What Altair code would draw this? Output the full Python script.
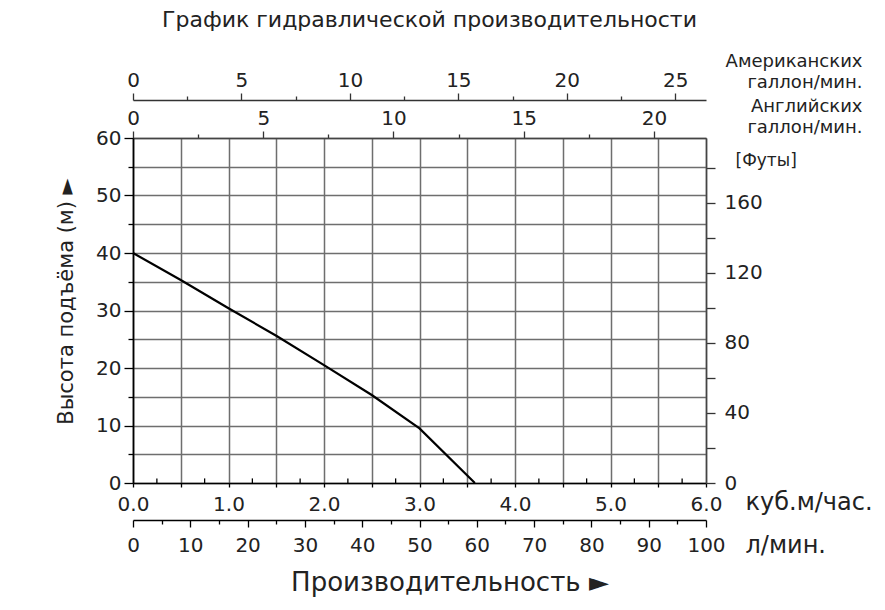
import altair as alt
import pandas as pd

# ---- data ----
flow_m3h = [0.0, 0.5, 1.0, 1.5, 2.0, 2.5, 3.0, 3.58]
head_m = [40.0, 35.3, 30.4, 25.6, 20.5, 15.3, 9.5, 0.0]

m3h_ticks = [0.0, 0.5, 1.0, 1.5, 2.0, 2.5, 3.0, 3.5, 4.0, 4.5, 5.0, 5.5, 6.0]
m3h_minor = [0.25, 0.75, 1.25, 1.75, 2.25, 2.75, 3.25, 3.75, 4.25, 4.75, 5.25, 5.75]
head_ticks = [0, 5, 10, 15, 20, 25, 30, 35, 40, 45, 50, 55, 60]
lmin_ticks = [0, 5, 10, 15, 20, 25, 30, 35, 40, 45, 50, 55, 60, 65, 70, 75, 80, 85, 90, 95, 100]
usgal_ticks = [0, 2.5, 5, 7.5, 10, 12.5, 15, 17.5, 20, 22.5, 25]
ukgal_ticks = [0, 2.5, 5, 7.5, 10, 12.5, 15, 17.5, 20]
feet_ticks = [0, 20, 40, 60, 80, 100, 120, 140, 160, 180]

m3h_domain = [0, 6.0]
head_domain = [0, 60]
lmin_domain = [0, 100]
usgal_domain = [0, 26.417]
ukgal_domain = [0, 21.997]
feet_domain = [0, 196.85]

title_text = "График гидравлической производительности"
x_title = "Производительность ►"
y_title = "Высота подъёма (м) ►"

FONT = "DejaVu Sans"
TXT = "#222222"
GRID = "#6e6e6e"
LBL = 20


def cond_size(test, big, small):
    return {"condition": {"test": test, "value": big}, "value": small}


curve = pd.DataFrame({"q": flow_m3h, "h": head_m})

line = alt.Chart(curve).mark_line(color="black", strokeWidth=2.2).encode(
    x=alt.X("q:Q", scale=alt.Scale(domain=m3h_domain, nice=False, zero=False),
            axis=alt.Axis(values=m3h_ticks,
                          labelExpr="datum.value % 1 === 0 ? format(datum.value, '.1f') : ''",
                          grid=True, gridColor=GRID, gridWidth=1.5,
                          tickSize=4, tickColor="black", tickWidth=1.3,
                          domainColor="black", domainWidth=1.7,
                          labelFont=FONT, labelFontSize=LBL, labelColor=TXT, labelPadding=7,
                          labelFlush=False, labelOverlap=False,
                          title="куб.м/час.", titleX=612, titleY=19, titleAlign="left",
                          titleBaseline="middle", titleFont=FONT, titleFontSize=24,
                          titleFontWeight="normal", titleColor=TXT)),
    y=alt.Y("h:Q", scale=alt.Scale(domain=head_domain, nice=False),
            axis=alt.Axis(values=head_ticks,
                          labelExpr="datum.value % 10 === 0 ? datum.label : ''",
                          grid=True, gridColor=GRID, gridWidth=1.5,
                          tickSize=cond_size("datum.value % 10 === 0", 9, 5),
                          tickColor="black", tickWidth=1.3,
                          domainColor="black", domainWidth=1.7,
                          labelFont=FONT, labelFontSize=LBL, labelColor=TXT, labelPadding=3,
                          labelFlush=False, labelOverlap=False,
                          title=y_title, titleX=-67, titleY=163, titleAngle=-90,
                          titleAlign="center", titleBaseline="middle", titleFont=FONT,
                          titleFontSize=21, titleFontWeight="normal", titleColor=TXT)),
)

minor = alt.Chart(pd.DataFrame({"q": m3h_minor, "y0": [0] * len(m3h_minor),
                                "y1": [0.8] * len(m3h_minor)})).mark_rule(
    color="black", strokeWidth=1.3).encode(
    x=alt.X("q:Q", scale=alt.Scale(domain=m3h_domain, nice=False, zero=False), axis=None),
    y=alt.Y("y0:Q", scale=alt.Scale(domain=head_domain, nice=False), axis=None),
    y2="y1:Q",
)

lmin = alt.Chart(pd.DataFrame({"v": lmin_ticks})).mark_point(opacity=0).encode(
    x=alt.X("v:Q", scale=alt.Scale(domain=lmin_domain, nice=False),
            axis=alt.Axis(orient="bottom", offset=37, values=lmin_ticks,
                          labelExpr="datum.value % 10 === 0 ? datum.label : ''",
                          grid=False, tickSize=cond_size("datum.value % 10 === 0", 7, 4),
                          tickColor="black", tickWidth=1.3,
                          domainColor="black", domainWidth=1.7,
                          labelFont=FONT, labelFontSize=LBL, labelColor=TXT, labelPadding=8,
                          labelFlush=False, labelOverlap=False,
                          title="л/мин.", titleX=612, titleY=25, titleAlign="left",
                          titleBaseline="middle", titleFont=FONT, titleFontSize=24,
                          titleFontWeight="normal", titleColor=TXT)),
    y=alt.value(0),
)

usgal = alt.Chart(pd.DataFrame({"v": usgal_ticks})).mark_point(opacity=0).encode(
    x=alt.X("v:Q", scale=alt.Scale(domain=usgal_domain, nice=False),
            axis=alt.Axis(orient="top", offset=38, values=usgal_ticks,
                          labelExpr="datum.value % 5 === 0 ? datum.label : ''",
                          grid=False, tickSize=cond_size("datum.value % 5 === 0", 7, 4),
                          tickColor="#333333", tickWidth=1.3,
                          domainColor="#333333", domainWidth=1.5,
                          labelFont=FONT, labelFontSize=LBL, labelColor=TXT, labelPadding=3,
                          labelFlush=False, labelOverlap=False,
                          title=["Американских", "галлон/мин."], titleX=729, titleY=-48,
                          titleAlign="right", titleBaseline="top", titleLineHeight=21,
                          titleFont=FONT, titleFontSize=18, titleFontWeight="normal",
                          titleColor=TXT)),
    y=alt.value(0),
)

ukgal = alt.Chart(pd.DataFrame({"v": ukgal_ticks})).mark_point(opacity=0).encode(
    x=alt.X("v:Q", scale=alt.Scale(domain=ukgal_domain, nice=False),
            axis=alt.Axis(orient="top", offset=0, values=ukgal_ticks,
                          labelExpr="datum.value % 5 === 0 ? datum.label : ''",
                          grid=False, tickSize=cond_size("datum.value % 5 === 0", 7, 4),
                          tickColor="#333333", tickWidth=1.3,
                          domainColor="#444444", domainWidth=1.5,
                          labelFont=FONT, labelFontSize=LBL, labelColor=TXT, labelPadding=3,
                          labelFlush=False, labelOverlap=False,
                          title=["Английских", "галлон/мин."], titleX=729, titleY=-41,
                          titleAlign="right", titleBaseline="top", titleLineHeight=21,
                          titleFont=FONT, titleFontSize=18, titleFontWeight="normal",
                          titleColor=TXT)),
    y=alt.value(0),
)

feet = alt.Chart(pd.DataFrame({"v": feet_ticks})).mark_point(opacity=0).encode(
    y=alt.Y("v:Q", scale=alt.Scale(domain=feet_domain, nice=False),
            axis=alt.Axis(orient="right", values=feet_ticks,
                          labelExpr="datum.value % 40 === 0 ? datum.label : ''",
                          grid=False, tickSize=9, tickColor="#333333", tickWidth=1.3,
                          domainColor="#444444", domainWidth=1.5,
                          labelFont=FONT, labelFontSize=LBL, labelColor=TXT, labelPadding=9,
                          labelFlush=False, labelOverlap=False,
                          title="[Футы]", titleX=29, titleY=22, titleAngle=0,
                          titleAlign="left", titleBaseline="middle",
                          titleFont=FONT, titleFontSize=17, titleFontWeight="normal",
                          titleColor=TXT)),
    x=alt.value(0),
)

xlab = alt.Chart(pd.DataFrame({"t": [x_title]})).mark_text(
    font=FONT, fontSize=26, color=TXT, align="center", baseline="middle").encode(
    text="t:N", x=alt.value(317), y=alt.value(445))

chart = alt.layer(line, minor, lmin, usgal, ukgal, feet, xlab).resolve_scale(
    x="independent", y="independent"
).properties(
    width=573, height=345,
    autosize=alt.AutoSizeParams(type="none"),
    padding={"left": 125, "top": 130, "right": 171, "bottom": 118},
    title=alt.TitleParams(title_text, font=FONT, fontSize=22, fontWeight="normal",
                          color=TXT, anchor="middle", dx=10, offset=20),
).configure_view(stroke=None)

chart.save("out.html", embed_options={"renderer": "svg", "actions": False})
